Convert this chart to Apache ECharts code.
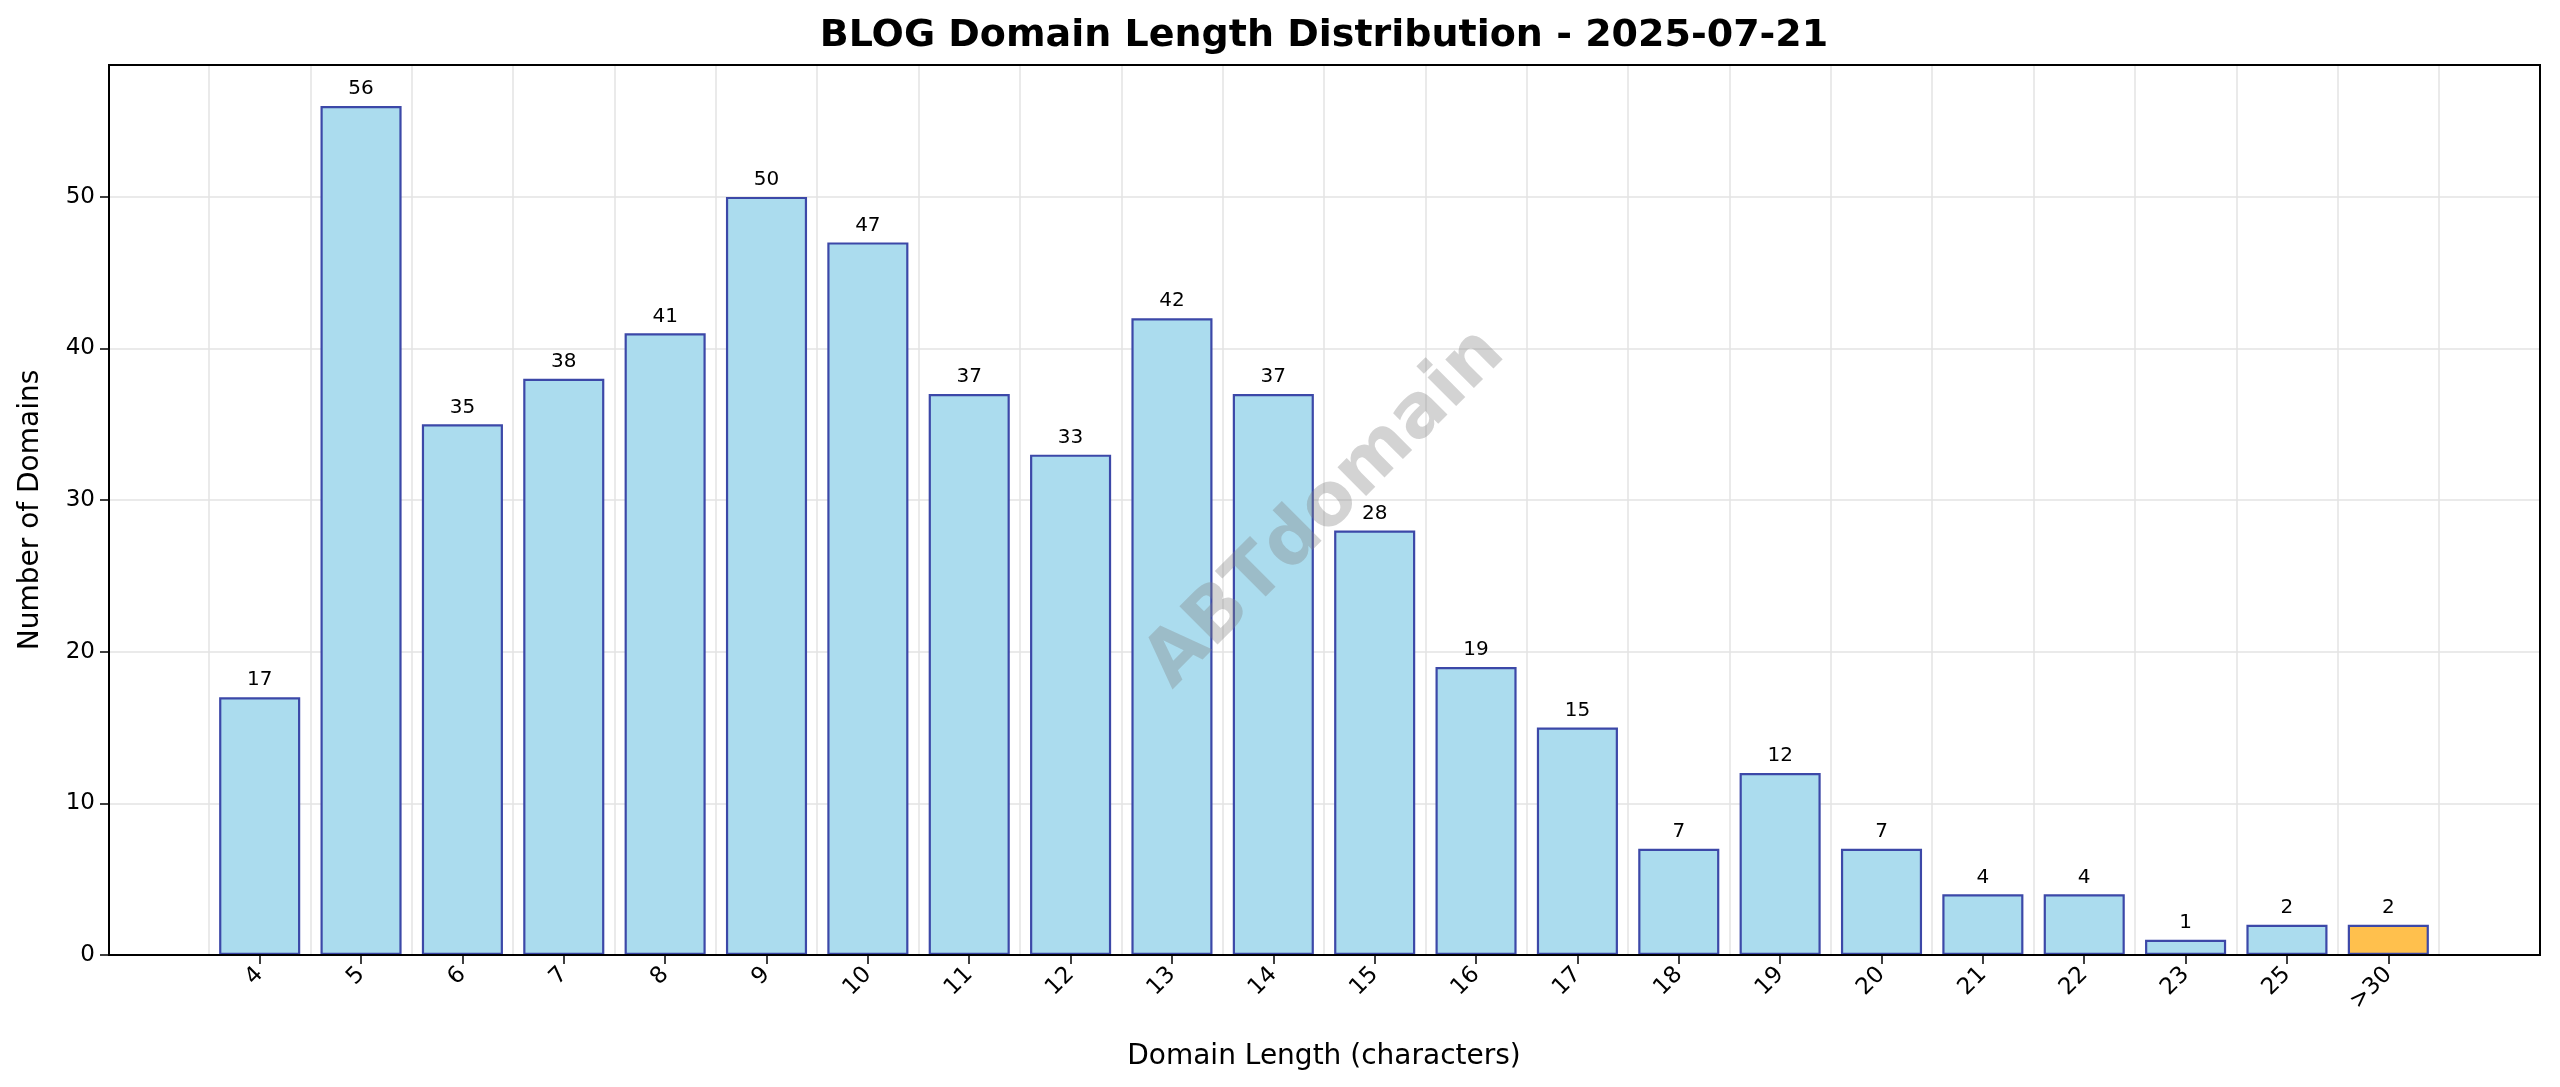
<!DOCTYPE html>
<html><head><meta charset="utf-8">
<script src="https://cdn.jsdelivr.net/npm/echarts@6/dist/echarts.min.js"></script>
<style>html,body{margin:0;padding:0;background:#fff}#c{width:2560px;height:1087px}</style>
</head><body><div id="c"></div>
<script>
const categories = ['4','5','6','7','8','9','10','11','12','13','14','15','16','17','18','19','20','21','22','23','25','>30'];
const counts = [17,56,35,38,41,50,47,37,33,42,37,28,19,15,7,12,7,4,4,1,2,2];
const yMax = 58.7;
const chart = echarts.init(document.getElementById('c'));
const font = 'DejaVu Sans';
chart.setOption({
  backgroundColor:'#fff',
  animation:false,
  textStyle:{fontFamily:font},
  grid:[
    {left:109,top:65,width:2431,height:890,show:false},
    {left:209,top:65,width:2230,height:890}
  ],
  xAxis:[
    {gridIndex:0,type:'value',min:0,max:1,show:false},
    {gridIndex:1,type:'category',data:categories,
      axisLine:{show:false},
      axisTick:{show:true,alignWithLabel:true,length:9,lineStyle:{color:'#000',width:1.5}},
      axisLabel:{rotate:45,fontSize:23,color:'#000',margin:16,interval:0},
      splitLine:{show:true,lineStyle:{color:'#e3e3e3',width:1.5}},
      name:'Domain Length (characters)',nameLocation:'middle',nameGap:88,
      nameTextStyle:{fontSize:28,color:'#000'}}
  ],
  yAxis:[
    {gridIndex:0,type:'value',min:0,max:yMax,interval:10,
      axisLine:{show:false},axisTick:{show:true,length:9,lineStyle:{color:'#000',width:1.5}},
      axisLabel:{fontSize:23,color:'#000',margin:14,showMaxLabel:false},
      splitLine:{lineStyle:{color:'#e3e3e3',width:1.5}},
      name:'Number of Domains',nameLocation:'middle',nameGap:64,
      nameTextStyle:{fontSize:28,color:'#000'}},
    {gridIndex:1,type:'value',min:0,max:yMax,show:false,splitLine:{show:false}}
  ],
  series:[{
    type:'bar',xAxisIndex:1,yAxisIndex:1,barWidth:'80%',
    data:counts.map((v,i)=>({value:v,itemStyle:{color:i===counts.length-1?'#FFC04D':'#ABDCEE'}})),
    itemStyle:{borderColor:'#3C48A8',borderWidth:2.2},
    label:{show:true,position:'top',fontSize:20,color:'#000',distance:7}
  }],
  graphic:[
    {type:'rect',z:90,silent:true,shape:{x:109,y:65,width:2431,height:890},
      style:{fill:null,stroke:'#000',lineWidth:2}},
    {type:'text',x:1324,y:36,z:100,
      style:{text:'BLOG Domain Length Distribution - 2025-07-21',fontSize:38,fontWeight:'bold',fill:'#000',
        fontFamily:font,align:'center',verticalAlign:'middle'}},
    {type:'text',x:1326,y:509,rotation:Math.PI/4,z:100,
      style:{text:'ABTdomain',fontSize:74,fontWeight:'bold',fill:'rgba(128,128,128,0.35)',
        fontFamily:font,align:'center',verticalAlign:'middle'}}
  ]
});
</script></body></html>
